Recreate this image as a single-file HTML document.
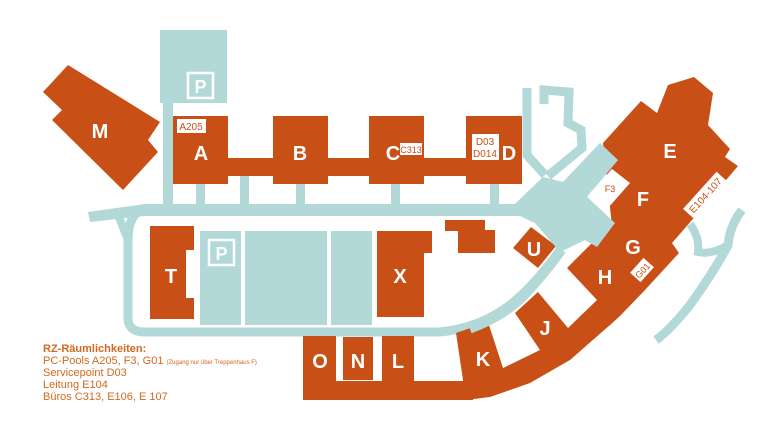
<!DOCTYPE html>
<html><head><meta charset="utf-8"><style>
html,body{margin:0;padding:0;background:#fff}
svg{display:block}
text{font-family:"Liberation Sans",sans-serif}
</style></head><body>
<svg width="768" height="437" viewBox="0 0 768 437" xmlns="http://www.w3.org/2000/svg">
<g fill="#b3d8d8" stroke="none">
  <!-- top parking -->
  <rect x="160" y="30" width="67" height="73"/>
  <rect x="163" y="100" width="10" height="108"/>
  <!-- main road -->
  <polygon points="88,212 145,204 520,204 520,216 145,216 90,222"/>
  <!-- connectors -->
  <rect x="196" y="183" width="9" height="25"/>
  <rect x="240" y="175" width="9" height="33"/>
  <rect x="296" y="183" width="9" height="25"/>
  <rect x="391" y="183" width="9" height="25"/>
  <rect x="490" y="183" width="9" height="25"/>
  <!-- loop road -->
  <path d="M140,210 Q128,218 128,240 L128,318 Q128,332 145,332 L440,332 Q480,328 510,305 Q535,285 560,250" fill="none" stroke="#b3d8d8" stroke-width="9"/>
  <path d="M118,215 L128,240" stroke="#b3d8d8" stroke-width="8"/>
  <!-- parking blocks -->
  <rect x="200" y="231" width="41" height="94"/>
  <rect x="245" y="231" width="82" height="94"/>
  <rect x="331" y="231" width="41" height="94"/>
  <!-- junction -->
  <polygon points="515,204 543,177 563,182 600,143 618,160 587,197 615,223 597,247 585,240 560,252 535,223 520,216"/>
  <!-- paths to top right -->
  <polyline points="527,88 527,155 545,175" fill="none" stroke="#b3d8d8" stroke-width="9"/>
  <polyline points="544,104 544,90 569,92 568,123 581,130 582,148 548,176" fill="none" stroke="#b3d8d8" stroke-width="9"/>
  <!-- right curves -->
  <path d="M742,210 Q730,225 728,245 Q715,270 690,305 Q670,330 656,340" fill="none" stroke="#b3d8d8" stroke-width="9"/>
  <path d="M690,224 Q700,238 698,252 Q712,255 728,245" fill="none" stroke="#b3d8d8" stroke-width="8"/>
</g>
<!-- P signs -->
<rect x="188" y="73" width="25" height="25" fill="none" stroke="#fff" stroke-width="2.5"/>
<text x="200.5" y="93" font-size="18" font-weight="bold" fill="#fff" text-anchor="middle">P</text>
<rect x="209" y="240" width="25" height="25" fill="none" stroke="#fff" stroke-width="2.5"/>
<text x="221.5" y="260" font-size="18" font-weight="bold" fill="#fff" text-anchor="middle">P</text>

<g fill="#c85016">
  <!-- M -->
  <polygon points="43,92 68,65 160,122 148,140 158,152 123,190 52,120 62,110"/>
  <!-- A-D -->
  <rect x="173" y="116" width="55" height="68"/>
  <rect x="273" y="116" width="55" height="68"/>
  <rect x="369" y="116" width="55" height="68"/>
  <rect x="466" y="116" width="56" height="68"/>
  <rect x="173" y="158" width="349" height="18"/>
  <!-- T -->
  <polygon points="150,226 194,226 194,250 186,250 186,298 194,298 194,319 150,319"/>
  <!-- X -->
  <polygon points="377,231 432,231 432,253 424,253 424,317 377,317"/>
  <!-- small -->
  <polygon points="445,220 485,220 485,230 495,230 495,253 458,253 458,231 445,231"/>
  <!-- U -->
  <polygon points="513,248 531,227 556,246 538,268"/>
  <!-- ONL bottom -->
  <rect x="303" y="336" width="33" height="64"/>
  <rect x="343" y="337" width="30" height="43"/>
  <rect x="382" y="336" width="32" height="50"/>
  <rect x="303" y="381" width="170" height="19"/>
  <!-- big band -->
  <polygon points="456,333 488,322 503,368 540,350 515,313 538,292 568,328 597,300 567,268 590,245 612,226 603,143 641,101 657,113 668,85 694,77 713,93 708,125 730,149 725,157 738,166 692,220 672,243 679,253 645,290 620,316 610,325 570,360 530,383 490,397 466,400"/>
</g>
<!-- re-draw junction over band -->
<polygon points="515,204 543,177 563,182 600,143 618,160 587,197 615,223 597,247 585,240 560,252 535,223 520,216" fill="#b3d8d8"/>
<path d="M470,329 Q500,318 520,300 Q540,280 562,250" fill="none" stroke="#b3d8d8" stroke-width="9"/>
<!-- white labels -->
<polygon points="590,193 612,169 630,183 608,208" fill="#fff"/>
<rect x="177" y="119" width="29" height="14" fill="#fff"/>
<rect x="400" y="143" width="22" height="12" fill="#fff"/>
<rect x="472" y="134" width="27" height="26" fill="#fff"/>
<g transform="translate(705,195) rotate(-48)"><rect x="-25" y="-7" width="50" height="14" fill="#fff"/>
<text x="0" y="4" font-size="10" fill="#c85016" text-anchor="middle">E104-107</text></g>
<g transform="translate(642,270) rotate(-48)"><rect x="-10" y="-7" width="20" height="14" fill="#fff"/>
<text x="0" y="4" font-size="9" fill="#c85016" text-anchor="middle">G01</text></g>
<g font-size="10" fill="#c85016" text-anchor="middle">
<text x="191" y="130">A205</text>
<text x="411" y="153" font-size="9">C313</text>
<text x="485" y="145">D03</text>
<text x="485" y="157">D014</text>
<text x="610" y="192" font-size="9">F3</text>
</g>
<g fill="#fff" font-size="20" font-weight="bold" text-anchor="middle">
<text x="100" y="138">M</text>
<text x="201" y="160">A</text>
<text x="300" y="160">B</text>
<text x="393" y="160">C</text>
<text x="509" y="160">D</text>
<text x="670" y="158">E</text>
<text x="643" y="206">F</text>
<text x="633" y="254">G</text>
<text x="605" y="284">H</text>
<text x="534" y="256">U</text>
<text x="171" y="283">T</text>
<text x="400" y="283">X</text>
<text x="320" y="368">O</text>
<text x="358" y="368">N</text>
<text x="398" y="368">L</text>
<text x="483" y="366">K</text>
<text x="545" y="335">J</text>
</g>
<g fill="#d2691e" font-size="11">
<text x="43" y="352" font-weight="bold">RZ-Räumlichkeiten:</text>
<text x="43" y="364">PC-Pools A205, F3, G01 <tspan font-size="6">(Zugang nur über Treppenhaus F)</tspan></text>
<text x="43" y="376">Servicepoint D03</text>
<text x="43" y="388">Leitung E104</text>
<text x="43" y="400">Büros C313, E106, E 107</text>
</g>
</svg>
</body></html>
